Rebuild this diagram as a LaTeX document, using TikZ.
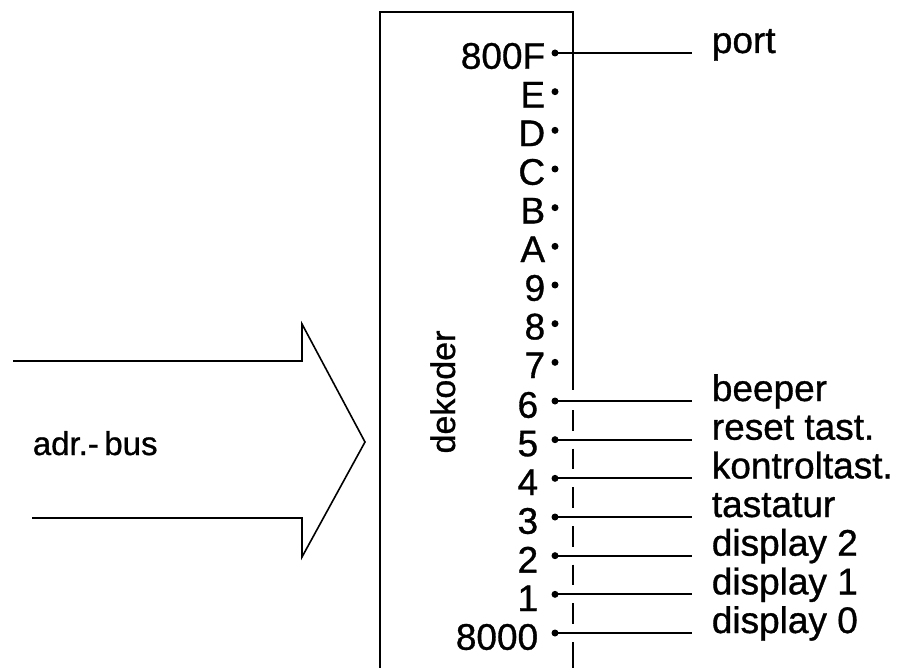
\documentclass[tikz,border=0pt]{standalone}
\usepackage{fontspec}
\setmainfont{Liberation Sans}[FakeBold=0.9]
\begin{document}
\begin{tikzpicture}[x=1pt,y=-1pt,line width=1.7pt,
  pinlbl/.style={anchor=east,inner sep=0pt,font=\fontsize{37}{40}\selectfont},
  outlbl/.style={anchor=base west,inner sep=0pt,font=\fontsize{37}{40}\selectfont},
  pindot/.style={circle,fill,inner sep=0pt,minimum size=7pt},
  wire/.style={line width=2pt}]
\useasboundingbox (0,0) rectangle (905,668);
% decoder box (open at the bottom)
\draw (380,668) -- (380,12) -- (573,12) -- (573,390);
% dashed part of right edge, broken at each wire
\foreach \k in {9,...,14}{
  \draw[line width=2pt] ({573},{53+38.667*\k+9}) -- ({573},{53+38.667*(\k+1)-9});
}
\draw[line width=2pt] (573,642) -- (573,668);
% pins
\foreach \lab/\k in {800F/0,E/1,D/2,C/3,B/4,A/5,9/6,8/7,7/8}{
  \node[pindot] (p\k) at (555,{53+38.667*\k}) {};
  \node[pinlbl] (n\k) at ([xshift=-9pt,yshift=-3pt]p\k.center) {\lab};
}
\foreach \lab/\k in {6/9,5/10,4/11,3/12,2/13,1/14,8000/15}{
  \node[pindot] (p\k) at (555,{53+38.667*\k}) {};
  \node[pinlbl] (n\k) at ([xshift=-16pt,yshift=-4pt]p\k.center) {\lab};
}
% wires and output labels
\foreach \txt/\k in {port/0,beeper/9,reset tast./10,kontroltast./11,tastatur/12,display 2/13,display 1/14,display 0/15}{
  \coordinate (w\k) at (692,{53+38.667*\k});
  \draw[wire] (p\k.center) -- (w\k);
  \node[outlbl] (o\k) at ([xshift=19pt]w\k) {\txt};
}
% address bus arrow
\draw[line width=1.6pt,line join=miter] (13,361) -- (302,361) -- (302,324) -- (365,442) -- (302,557) -- (302,518) -- (32,518);
\node[anchor=base west,inner sep=0pt,font=\fontsize{33}{36}\selectfont] (bus) at (32,455) {adr.-\,bus};
\node[rotate=90,anchor=base,inner sep=0pt,font=\fontsize{34}{36}\selectfont] (dek) at (455,392) {dekoder};
\end{tikzpicture}
\end{document}
